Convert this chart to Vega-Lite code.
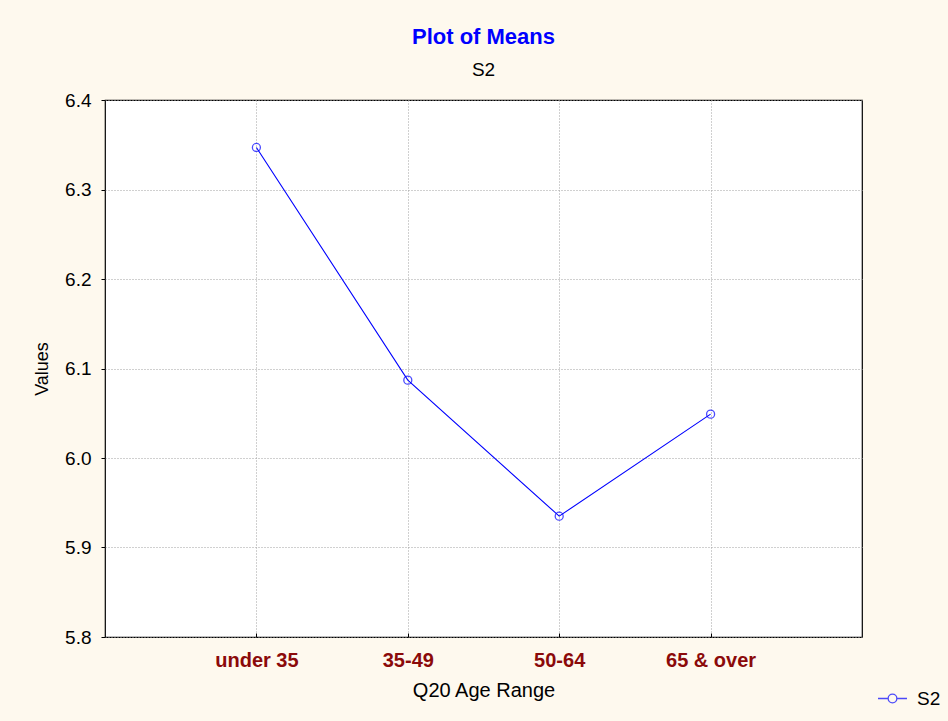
{
  "$schema": "https://vega.github.io/schema/vega-lite/v6.json",
  "width": 757,
  "height": 537,
  "autosize": {"type": "none"},
  "padding": {"left": 105, "top": 100, "right": 86, "bottom": 84},
  "background": "#FEF9EE",
  "title": {
    "text": "Plot of Means",
    "subtitle": "S2",
    "anchor": "middle",
    "font": "Liberation Sans",
    "fontSize": 22,
    "fontWeight": "bold",
    "color": "#0000FF",
    "subtitleFont": "Liberation Sans",
    "subtitleFontSize": 19,
    "subtitleColor": "#000000",
    "subtitlePadding": 12,
    "offset": 10
  },
  "data": {
    "values": [
      {"age": "under 35", "value": 6.347, "series": "S2"},
      {"age": "35-49", "value": 6.087, "series": "S2"},
      {"age": "50-64", "value": 5.935, "series": "S2"},
      {"age": "65 & over", "value": 6.049, "series": "S2"}
    ]
  },
  "encoding": {
    "x": {
      "field": "age",
      "type": "ordinal",
      "sort": null,
      "scale": {"type": "point", "padding": 1},
      "axis": {
        "title": "Q20 Age Range",
        "labelAngle": 0,
        "labelFont": "Liberation Sans",
        "labelFontSize": 20,
        "labelFontWeight": "bold",
        "labelColor": "#8B0A0A",
        "labelPadding": 17,
        "titleFont": "Liberation Sans",
        "titleFontSize": 20,
        "titleFontWeight": "normal",
        "titleColor": "#000000",
        "titlePadding": 10,
        "tickSize": -4,
        "tickColor": "#000000",
        "domain": false,
        "grid": true,
        "gridColor": "#A0A0A0",
        "gridDash": [1, 2]
      }
    },
    "y": {
      "field": "value",
      "type": "quantitative",
      "scale": {"domain": [5.8, 6.4], "nice": false, "zero": false},
      "axis": {
        "title": "Values",
        "values": [5.8, 5.9, 6.0, 6.1, 6.2, 6.3, 6.4],
        "format": ".1f",
        "labelFont": "Liberation Sans",
        "labelFontSize": 19,
        "labelColor": "#000000",
        "labelPadding": 10,
        "titleFont": "Liberation Sans",
        "titleFontSize": 18,
        "titleFontWeight": "normal",
        "titleColor": "#000000",
        "titlePadding": 13,
        "tickSize": 4,
        "tickColor": "#000000",
        "domain": false,
        "grid": true,
        "gridColor": "#A0A0A0",
        "gridDash": [1, 2]
      }
    },
    "color": {
      "field": "series",
      "type": "nominal",
      "scale": {"range": ["#0000FF"]},
      "legend": {
        "title": null,
        "orient": "none",
        "legendX": 772,
        "legendY": 583,
        "symbolType": "M-1,0L-0.3,0M0.3,0L1,0M-0.3,0A0.3,0.3 0 1,0 0.3,0A0.3,0.3 0 1,0 -0.3,0",
        "symbolSize": 840,
        "symbolStrokeWidth": 1.3,
        "symbolStrokeColor": "#0000FF",
        "symbolFillColor": "transparent",
        "labelFont": "Liberation Sans",
        "labelFontSize": 19,
        "labelColor": "#000000",
        "labelOffset": 9
      }
    }
  },
  "layer": [
    {"mark": {"type": "line", "strokeWidth": 1.1}},
    {"mark": {"type": "point", "filled": false, "size": 64, "strokeWidth": 1.3}}
  ],
  "config": {
    "view": {"stroke": "#000000", "strokeWidth": 1.2, "fill": "#FFFFFF"}
  }
}
